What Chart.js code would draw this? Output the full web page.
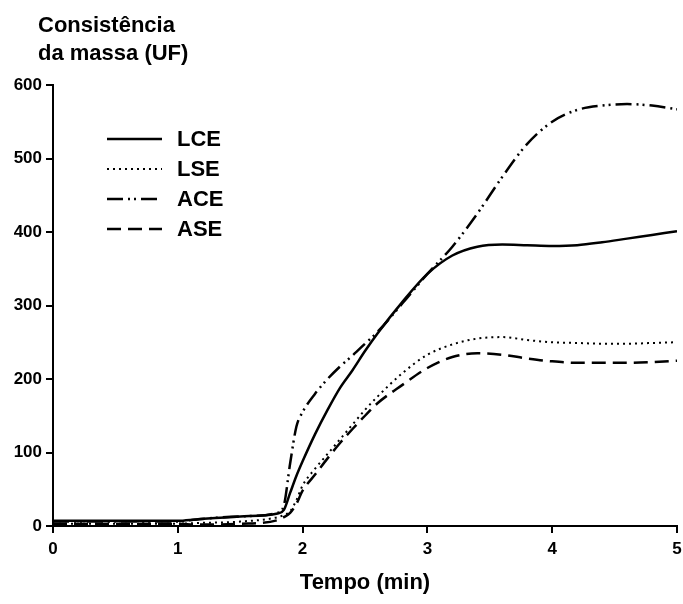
<!DOCTYPE html>
<html lang="pt">
<head>
<meta charset="UTF-8">
<title>Consistência da massa</title>
<script src="https://cdn.jsdelivr.net/npm/chart.js"></script>
<style>
  html, body { margin: 0; padding: 0; background: #fff; }
  #wrap { position: relative; width: 683px; height: 604px; }
</style>
</head>
<body>
<div id="wrap"><canvas id="grafico" width="683" height="604"></canvas></div>
<script>
// tempo (min) e consistência (UF)
const tempo = [0, 0.5, 1.0, 1.15, 1.5, 1.8, 1.85, 1.9, 1.95, 2.0, 2.1, 2.2, 2.3, 2.4, 2.5, 2.6, 2.8, 3.0, 3.2, 3.4, 3.6, 3.8, 4.0, 4.2, 4.4, 4.6, 4.8, 5.0];
const lce = [7, 7, 7, 9, 13, 17, 22, 45, 68, 88, 125, 158, 188, 212, 238, 262, 305, 343, 368, 380, 383, 382, 381, 382, 386, 391, 396, 401];
const lse = [3, 3, 3, 4, 6, 12, 15, 20, 35, 55, 78, 98, 118, 138, 158, 176, 208, 233, 247, 255, 257, 253, 250, 249, 248, 248, 249, 250];
const ace = [6, 6, 6, 9, 13, 18, 28, 85, 135, 155, 180, 200, 217, 232, 248, 264, 303, 343, 380, 425, 475, 520, 550, 566, 572, 574, 572, 567];
const ase = [3, 3, 3, 2, 3, 8, 12, 18, 30, 48, 70, 92, 113, 132, 150, 167, 192, 215, 230, 235, 233, 228, 224, 222, 222, 222, 223, 225];
const nomes = ['LCE', 'LSE', 'ACE', 'ASE'];
const ticksX = [0, 1, 2, 3, 4, 5];
const ticksY = [0, 100, 200, 300, 400, 500, 600];

const fonte = "'Liberation Sans', Arial, sans-serif";

function pontos(valores) {
    return tempo.map((t, i) => ({ x: t, y: valores[i] }));
}

const tracos = [[], [2, 4], [16, 5, 2, 4, 2, 5], [14, 7]];
const datasets = [lce, lse, ace, ase].map((v, i) => ({
    label: nomes[i],
    data: pontos(v),
    borderColor: '#000',
    borderWidth: i === 1 ? 2 : 2.5,
    borderDash: tracos[i],
    pointRadius: 0,
    fill: false,
    cubicInterpolationMode: 'monotone'
}));

// título do eixo y e legenda desenhados por cima
const textos = {
    id: 'textos',
    afterDraw(chart) {
        const ctx = chart.ctx;
        ctx.save();
        ctx.fillStyle = '#000';
        ctx.font = 'bold 22px ' + fonte;
        ctx.textAlign = 'left';
        ctx.textBaseline = 'alphabetic';
        ctx.fillText('Consistência', 38, 32);
        ctx.fillText('da massa (UF)', 38, 60);

        chart.data.datasets.forEach((ds, i) => {
            const y = 139 + i * 30;
            ctx.beginPath();
            ctx.setLineDash(ds.borderDash);
            ctx.lineWidth = ds.borderWidth;
            ctx.strokeStyle = ds.borderColor;
            ctx.moveTo(107, y);
            ctx.lineTo(162, y);
            ctx.stroke();
            ctx.setLineDash([]);
            ctx.textBaseline = 'middle';
            ctx.fillText(ds.label, 177, y + 1);
        });
        ctx.restore();
    }
};

new Chart(document.getElementById('grafico'), {
    type: 'line',
    data: { datasets: datasets },
    options: {
        responsive: false,
        animation: false,
        layout: { padding: { top: 85, right: 6, left: 0, bottom: 0 } },
        plugins: { legend: { display: false }, tooltip: { enabled: false } },
        scales: {
            x: {
                type: 'linear',
                min: 0,
                max: 5,
                afterBuildTicks: s => { s.ticks = ticksX.map(v => ({ value: v })); },
                afterFit: s => { s.height = 78; s.paddingRight = 0; s.paddingLeft = 0; },
                grid: { drawOnChartArea: false, color: '#000', lineWidth: 2, tickLength: 7 },
                border: { color: '#000', width: 2 },
                ticks: { color: '#000', font: { family: fonte, size: 17, weight: 'bold' }, padding: 6, maxRotation: 0 },
                title: { display: true, text: 'Tempo (min)', color: '#000', font: { family: fonte, size: 22, weight: 'bold' }, padding: { top: 0, bottom: 8 } }
            },
            y: {
                min: 0,
                max: 600,
                afterBuildTicks: s => { s.ticks = ticksY.map(v => ({ value: v })); },
                afterFit: s => { s.width = 53; },
                grid: { drawOnChartArea: false, color: '#000', lineWidth: 2, tickLength: 7 },
                border: { color: '#000', width: 2 },
                ticks: { color: '#000', font: { family: fonte, size: 17, weight: 'bold' }, padding: 4 }
            }
        }
    },
    plugins: [textos]
});
</script>
</body>
</html>
